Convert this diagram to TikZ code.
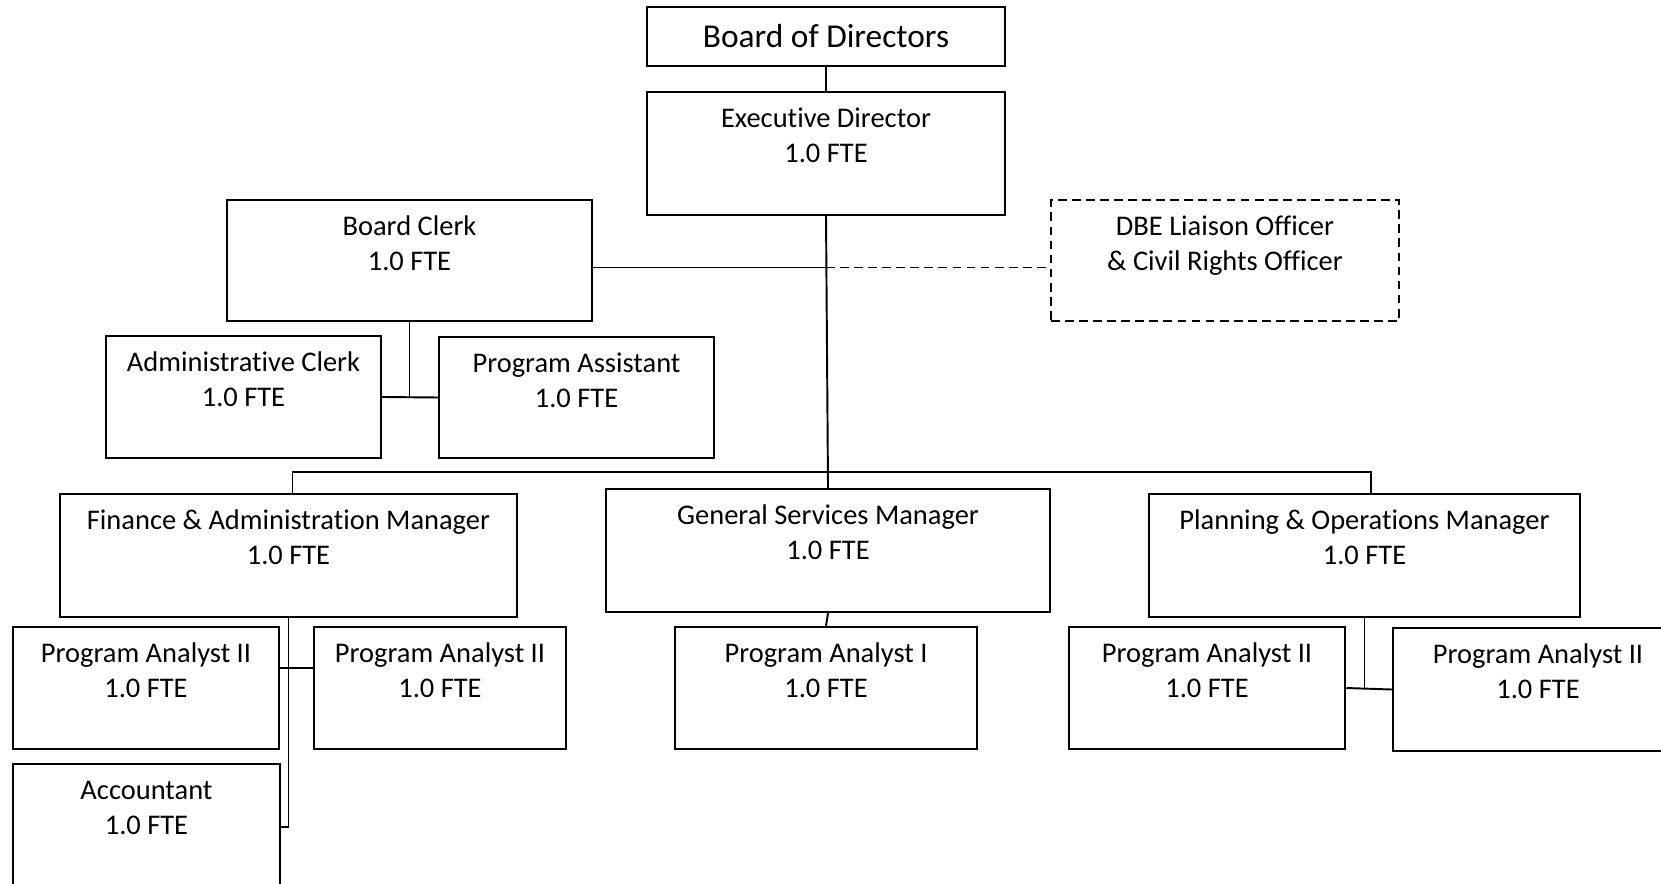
\documentclass[tikz,border=0pt]{standalone}
\usepackage{fontspec}
\setmainfont{Carlito}[Ligatures=NoCommon]
\usetikzlibrary{positioning, calc}

\begin{document}
\begin{tikzpicture}[
        unit/.style={draw, rectangle, line width=0.7pt, inner sep=0pt, minimum height=1.22cm},
        ttl/.style={anchor=north, align=center, inner sep=0pt, yshift=-0.11cm, font=\fontsize{8.1}{10}\selectfont},
        link/.style={line width=0.55pt},
        dashlink/.style={line width=0.55pt, dashed, dash pattern=on 2.5pt off 1.5pt}
    ]
        \useasboundingbox (0,0) rectangle (16.61,-8.84);
        \clip (0,0) rectangle (16.61,-8.84);
        \fill[white] (0,0) rectangle (16.61,-8.84);

        % --- Top of the chart ---
        \node[unit, minimum width=3.58cm, minimum height=0.59cm, font=\fontsize{9.5}{11}\selectfont] (bod) at (8.26,-0.365) {Board of Directors};
        \node[unit, minimum width=3.58cm, minimum height=1.23cm, label={[ttl]north:{\strut Executive Director\\1.0 FTE}}] (exec) at (8.26,-1.535) {};

        % --- Staff beside the director ---
        \node[unit, minimum width=3.65cm, minimum height=1.21cm, label={[ttl]north:{\strut Board Clerk\\1.0 FTE}}] (clerk) at (4.095,-2.605) {};
        \node[unit, dashlink, minimum width=3.48cm, minimum height=1.21cm, label={[ttl]north:{\strut DBE Liaison Officer\\\& Civil Rights Officer}}] (dbe) at (12.25,-2.605) {};
        \node[unit, minimum width=2.75cm, label={[ttl]north:{\strut Administrative Clerk\\1.0 FTE}}] (adm) at (2.435,-3.97) {};
        \node[unit, minimum width=2.75cm, minimum height=1.21cm, label={[ttl]north:{\strut Program Assistant\\1.0 FTE}}] (pa) at (5.765,-3.975) {};

        % --- Managers ---
        \node[unit, minimum width=4.57cm, minimum height=1.23cm, label={[ttl]north:{\strut Finance \& Administration Manager\\1.0 FTE}}] (fin) at (2.885,-5.555) {};
        \node[unit, minimum width=4.44cm, minimum height=1.23cm, label={[ttl]north:{\strut General Services Manager\\1.0 FTE}}] (gsm) at (8.28,-5.505) {};
        \node[unit, minimum width=4.31cm, minimum height=1.23cm, label={[ttl]north:{\strut Planning \& Operations Manager\\1.0 FTE}}] (plan) at (13.645,-5.555) {};

        % --- Analysts ---
        \node[unit, minimum width=2.66cm, label={[ttl]north:{\strut Program Analyst II\\1.0 FTE}}] (fa1) at (1.46,-6.88) {};
        \node[unit, minimum width=2.52cm, label={[ttl]north:{\strut Program Analyst II\\1.0 FTE}}] (fa2) at (4.40,-6.88) {};
        \node[unit, minimum width=2.67cm, minimum height=1.26cm, label={[ttl]north:{\strut Accountant\\1.0 FTE}}] (acct) at (1.465,-8.27) {};
        \node[unit, minimum width=3.02cm, label={[ttl]north:{\strut Program Analyst I\\1.0 FTE}}] (pa1) at (8.26,-6.88) {};
        \node[unit, minimum width=2.76cm, label={[ttl]north:{\strut Program Analyst II\\1.0 FTE}}] (pl1) at (12.07,-6.88) {};
        \node[unit, minimum width=2.90cm, minimum height=1.23cm, label={[ttl]north:{\strut Program Analyst II\\1.0 FTE}}] (pl2) at (15.38,-6.895) {};

        % --- Connectors ---
        \coordinate (cj) at ([yshift=-0.07cm]clerk.east -| exec.south);
        \draw[link] (bod.south) -- (exec.north);
        \draw[link] (exec.south) -- (gsm.north);
        \draw[link] ([yshift=-0.07cm]clerk.east) -- (cj);
        \draw[dashlink] (cj) -- (cj -| dbe.west);
        \draw[link] (clerk.south) -- (clerk.south |- adm.east);
        \draw[link] (adm.east) -- (pa.west);
        \draw[link] ([xshift=0.04cm]fin.north) -- ++(0,0.21) -| ([xshift=0.065cm]plan.north);
        \draw[link] (fin.south) |- (acct.east);
        \draw[link] ([yshift=0.2cm]fa1.east) -- ([yshift=0.2cm]fa2.west);
        \draw[link] (gsm.south) -- (pa1.north);
        \draw[link] (plan.south) -- (plan.south |- pl1.east);
        \draw[link] (pl1.east) -- (pl2.west);

    \end{tikzpicture}
\end{document}
